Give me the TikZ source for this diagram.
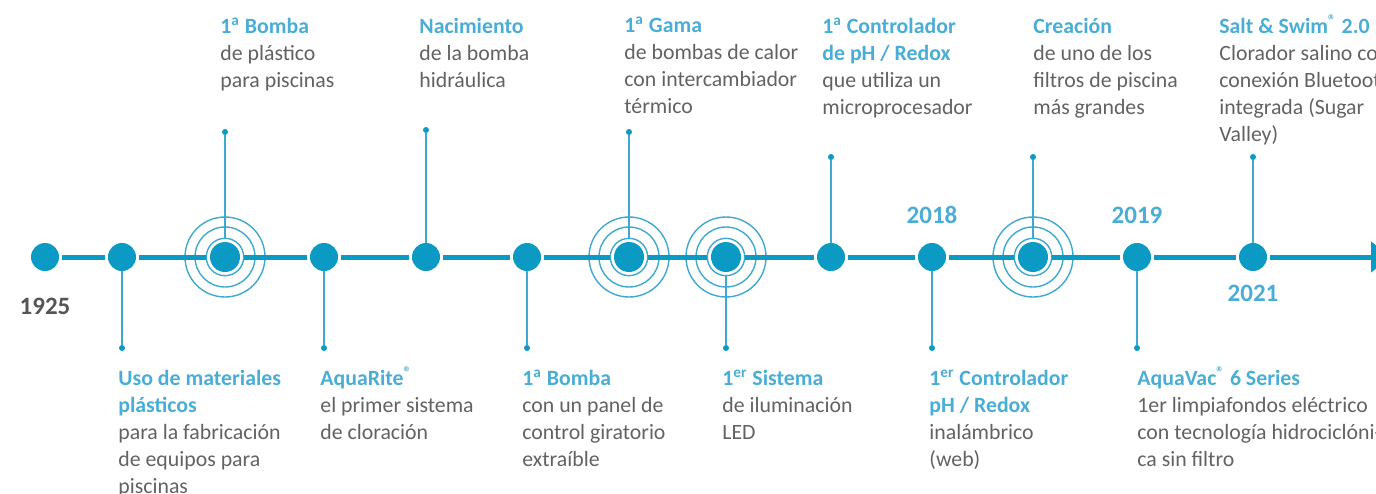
\documentclass[tikz,border=0pt]{standalone}
\usepackage{fontspec}
\setmainfont{Carlito}
\usetikzlibrary{positioning}
\usetikzlibrary{arrows.meta}
\definecolor{ejeazul}{HTML}{0B9AC4}
\definecolor{finoazul}{HTML}{3DA9D1}
\definecolor{tituloazul}{HTML}{4AADD5}
\definecolor{textogris}{HTML}{626262}
\definecolor{aniogris}{HTML}{555555}
\newcommand{\tit}[1]{{\bfseries\color{tituloazul}#1}}
\newcommand{\vol}[1]{\smash{\textsuperscript{#1}}}

\tikzset{
  hito/.style={circle, fill=ejeazul, inner sep=0pt, minimum size=14pt, outer sep=1.5pt},
  diana/.style={hito, minimum size=15pt, outer sep=1.95pt},
  remate/.style={circle, fill=ejeazul, inner sep=0pt, minimum size=3pt},
  vastago/.style={finoazul, line width=0.85pt},
  eje/.style={ejeazul, line width=2.5pt},
  anillo/.style={finoazul, line width=0.7pt},
  rotulo/.style={anchor=north west, inner sep=0pt, align=left, text=textogris,
    font=\fontsize{10.9pt}{13.5pt}\selectfont, execute at begin node={\rule{0pt}{7.5pt}}},
  anio/.style={inner sep=0pt, text=tituloazul, font=\bfseries\fontsize{12.5pt}{14pt}\selectfont}
}

\begin{document}
\begin{tikzpicture}[x=0.5pt, y=-0.5pt]
    \useasboundingbox (0,0) rectangle (1376,493);
    \clip (0,0) rectangle (1376,493);
    % posiciones
    \foreach \i/\x in {1/45,2/122,3/225,4/324,5/426,6/527,7/629,8/726,9/831,10/932,11/1033,12/1137,13/1253}
      \coordinate (p\i) at (\x,257);

    % vastagos
    \foreach \i/\x/\y in {2/122/348,3/225/132,4/324/348,5/426/130,6/527/348,7/629/132,
      8/726/348,9/831/157,10/932/348,11/1033/157,12/1137/348,13/1253/157}
    {
      \node[remate] (s\i) at (\x,\y) {};
      \draw[vastago] (s\i) -- (p\i);
    }

    % dianas
    \foreach \i in {3,7,8,11}
    {
      \fill[white] (p\i) circle (9pt);
      \foreach \r in {9.35,15,20} \draw[anillo] (p\i) circle (\r pt);
    }

    % hitos
    \foreach \i in {1,2,4,5,6,9,10,12,13} \node[hito] (d\i) at (p\i) {};
    \foreach \i in {3,7,8,11} \node[diana] (d\i) at (p\i) {};

    % eje
    \foreach \i [evaluate=\i as \j using int(\i+1)] in {1,...,12}
      \draw[eje] (d\i) -- (d\j);
    \coordinate (fin) at (1390,257);
    \draw[eje, -{Triangle[length=9.5pt, width=15pt]}] (d13) -- (fin);

    % anios
    \node[anio, text=aniogris, below=12pt of d1] (a1925) {1925};
    \node[anio, above=8pt of d10] (a2018) {2018};
    \node[anio, above=8pt of d12] (a2019) {2019};
    \node[anio, below=5.5pt of d13] (a2021) {2021};

    % rotulos de arriba
    \node[rotulo] (t3) at (220,18) {\tit{1\vol{a} Bomba}\\de plástico\\para piscinas};
    \node[rotulo] (t5) at (419,18) {\tit{Nacimiento}\\de la bomba\\hidráulica};
    \node[rotulo] (t7) at (624,18) {\tit{1\vol{a} Gama}\\de bombas de calor\\con intercambiador\\térmico};
    \node[rotulo] (t9) at (822,18) {\tit{1\vol{a} Controlador}\\\tit{de pH / Redox}\\que utiliza un\\microprocesador};
    \node[rotulo] (t11) at (1033,18) {\tit{Creación}\\de uno de los\\filtros de piscina\\más grandes};
    \node[rotulo] (t13) at (1219,18) {\tit{Salt \& Swim\vol{®} 2.0}\\Clorador salino con\\conexión Bluetooth\\integrada (Sugar\\Valley)};

    % rotulos de abajo
    \node[rotulo] (t2) at (118,370) {\tit{Uso de materiales}\\\tit{plásticos}\\para la fabricación\\de equipos para\\piscinas};
    \node[rotulo] (t4) at (320,370) {\tit{AquaRite\vol{®}}\\el primer sistema\\de cloración};
    \node[rotulo] (t6) at (522,370) {\tit{1\vol{a} Bomba}\\con un panel de\\control giratorio\\extraíble};
    \node[rotulo] (t8) at (722,370) {\tit{1\vol{er} Sistema}\\de iluminación\\LED};
    \node[rotulo] (t10) at (929,370) {\tit{1\vol{er} Controlador}\\\tit{pH / Redox}\\inalámbrico\\(web)};
    \node[rotulo] (t12) at (1137,370) {\tit{AquaVac\vol{®} 6 Series}\\1er limpiafondos eléctrico\\con tecnología hidrociclóni-\\ca sin filtro};
\end{tikzpicture}
\end{document}
